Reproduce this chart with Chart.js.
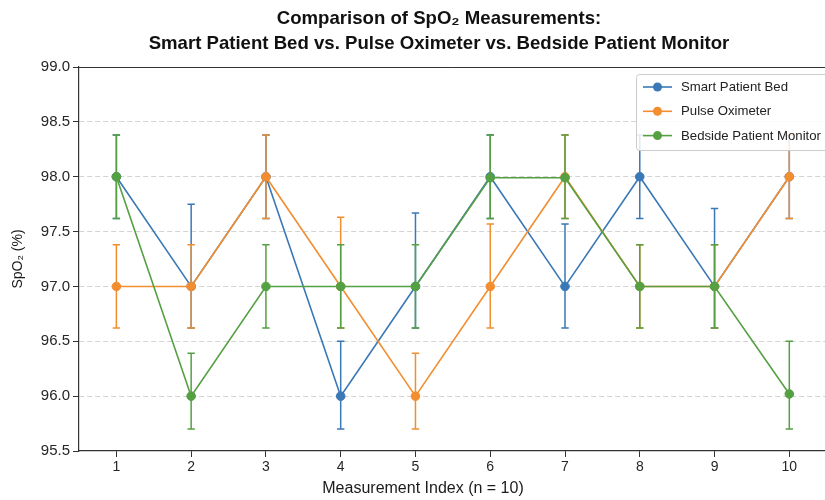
<!DOCTYPE html>
<html><head><meta charset="utf-8">
<script src="https://cdn.jsdelivr.net/npm/chart.js@4.4.1/dist/chart.umd.min.js"></script>
<style>html,body{margin:0;padding:0;background:#fff;overflow:hidden;} #wrap{width:832px;height:500px;}</style>
</head><body><div id="wrap"><canvas id="c" width="832" height="500"></canvas></div>
<script>
const measurementIndex = [1,2,3,4,5,6,7,8,9,10];
const seriesNames = ['Smart Patient Bed','Pulse Oximeter','Bedside Patient Monitor'];
const yTicks = [95.5,96.0,96.5,97.0,97.5,98.0,98.5,99.0];
const titleLines = ['Comparison of SpO\u2082 Measurements:','Smart Patient Bed vs. Pulse Oximeter vs. Bedside Patient Monitor'];
const xAxisTitle = 'Measurement Index (n = 10)';
const yAxisTitle = 'SpO\u2082 (%)';

const smartBed     = [98,97,98,96,97,98,97,98,97,98];
const smartBedLow  = [97.62,96.62,97.62,95.70,96.62,97.62,96.62,97.62,96.62,97.62];
const smartBedHigh = [98.38,97.75,98.38,96.50,97.67,98.38,97.57,98.38,97.71,98.38];

const pulseOx      = [97,97,98,97,96,97,98,97,97,98];
const pulseOxLow   = [96.62,96.62,97.62,96.62,95.70,96.62,97.62,96.62,96.62,97.62];
const pulseOxHigh  = [97.38,97.38,98.38,97.63,96.39,97.57,98.38,97.38,97.38,98.38];

const bedside      = [98,96,97,97,97,97.99,97.99,97,97,96.02];
const bedsideLow   = [97.62,95.70,96.62,96.62,96.62,97.62,97.62,96.62,96.62,95.70];
const bedsideHigh  = [98.38,96.39,97.38,97.38,97.38,98.38,98.38,97.38,97.38,96.50];

const colors = ['#3a78b6','#f28e2f','#55a043'];
const FONT = "'Liberation Sans', Arial, sans-serif";

function mk(i, vals, lo, hi, order) {
  return {
    label: seriesNames[i],
    data: vals.map((v,k)=>({x: measurementIndex[k], y: v})),
    errLow: lo, errHigh: hi,
    borderColor: colors[i], backgroundColor: colors[i],
    pointBackgroundColor: colors[i], pointBorderColor: colors[i],
    borderWidth: 1.6, pointRadius: 4.3, pointBorderWidth: 1,
    tension: 0, order: order, clip: false
  };
}

const errorBarPlugin = {
  id: 'errorBars',
  beforeDatasetDraw(chart, args) {
    const ds = chart.data.datasets[args.index];
    if (!ds.errLow) return;
    const xs = chart.scales.x, ys = chart.scales.y, ctx = chart.ctx;
    ctx.save();
    ctx.strokeStyle = ds.borderColor; ctx.lineWidth = 1.5;
    ds.data.forEach((p,i)=>{
      const x = xs.getPixelForValue(p.x);
      const y1 = ys.getPixelForValue(ds.errLow[i]);
      const y2 = ys.getPixelForValue(ds.errHigh[i]);
      ctx.beginPath();
      ctx.moveTo(x,y1); ctx.lineTo(x,y2);
      ctx.moveTo(x-3.7,y1); ctx.lineTo(x+3.7,y1);
      ctx.moveTo(x-3.7,y2); ctx.lineTo(x+3.7,y2);
      ctx.stroke();
    });
    ctx.restore();
  }
};

const framePlugin = {
  id: 'frame',
  afterDraw(chart) {
    const ctx = chart.ctx, ca = chart.chartArea;
    ctx.save();
    ctx.strokeStyle = '#333'; ctx.lineWidth = 1;
    ctx.beginPath(); ctx.moveTo(ca.left, ca.top+0.5); ctx.lineTo(ca.right, ca.top+0.5); ctx.stroke();
    // title
    ctx.fillStyle = '#111'; ctx.textAlign = 'center'; ctx.textBaseline = 'middle';
    ctx.font = 'bold 18.6px ' + FONT;
    ctx.fillText(titleLines[0], 439, 19);
    ctx.fillText(titleLines[1], 439, 44);
    // x axis title
    ctx.fillStyle = '#1a1a1a';
    ctx.font = '16px ' + FONT;
    ctx.fillText(xAxisTitle, 423, 489);
    // legend
    const bx = 636.5, by = 74.5, bw = 192, bh = 76;
    ctx.fillStyle = 'rgba(255,255,255,0.85)'; ctx.strokeStyle = '#cccccc'; ctx.lineWidth = 1;
    ctx.beginPath(); ctx.roundRect(bx, by, bw, bh, 3); ctx.fill(); ctx.stroke();
    ctx.font = '13.2px ' + FONT; ctx.textAlign = 'left';
    seriesNames.forEach((n,i)=>{
      const y = 87 + i*24.3;
      ctx.strokeStyle = colors[i]; ctx.lineWidth = 1.6;
      ctx.beginPath(); ctx.moveTo(643, y); ctx.lineTo(672, y); ctx.stroke();
      ctx.fillStyle = colors[i];
      ctx.beginPath(); ctx.arc(657.5, y, 4.5, 0, Math.PI*2); ctx.fill();
      ctx.fillStyle = '#222';
      ctx.fillText(n, 681, y+0.5);
    });
    ctx.restore();
  }
};

new Chart(document.getElementById('c'), {
  type: 'line',
  data: { datasets: [
    mk(0, smartBed, smartBedLow, smartBedHigh, 2),
    mk(1, pulseOx, pulseOxLow, pulseOxHigh, 1),
    mk(2, bedside, bedsideLow, bedsideHigh, 0)
  ]},
  options: {
    responsive: false, animation: false, devicePixelRatio: 1,
    layout: { padding: { top: 67, left: 0, right: 0, bottom: 0 } },
    plugins: { legend: { display: false }, tooltip: { enabled: false }, title: { display: false } },
    scales: {
      x: {
        type: 'linear', min: 0.5, max: 10.5,
        afterBuildTicks: s => { s.ticks = measurementIndex.map(v=>({value: v})); },
        afterFit: s => { s.height = 49; },
        grid: { drawOnChartArea: false, tickLength: 6, tickColor: '#333', tickWidth: 1 },
        border: { color: '#333', width: 1.2 },
        ticks: { color: '#262626', font: { family: FONT, size: 14 }, padding: 2, maxRotation: 0,
                 callback: v => String(v) },
        title: { display: false }
      },
      y: {
        type: 'linear', min: 95.5, max: 99.0,
        afterBuildTicks: s => { s.ticks = yTicks.map(v=>({value: v})); },
        afterFit: s => { s.width = 79; },
        grid: {
          color: c => (c.tick && (Math.abs(c.tick.value-99)<1e-6 || Math.abs(c.tick.value-95.5)<1e-6)) ? 'rgba(0,0,0,0)' : '#d3d3d3',
          lineWidth: 1, tickLength: 6, tickColor: '#333', tickWidth: 1
        },
        border: { color: '#333', width: 1.2, dash: [5,3] },
        ticks: { color: '#262626', font: { family: FONT, size: 15 }, padding: 3,
                 callback: v => Number(v).toFixed(1) },
        title: { display: true, text: yAxisTitle, color: '#1a1a1a',
                 font: { family: FONT, size: 14 }, padding: { top: 10, bottom: 0 } }
      }
    }
  },
  plugins: [errorBarPlugin, framePlugin]
});
</script>
</body></html>
